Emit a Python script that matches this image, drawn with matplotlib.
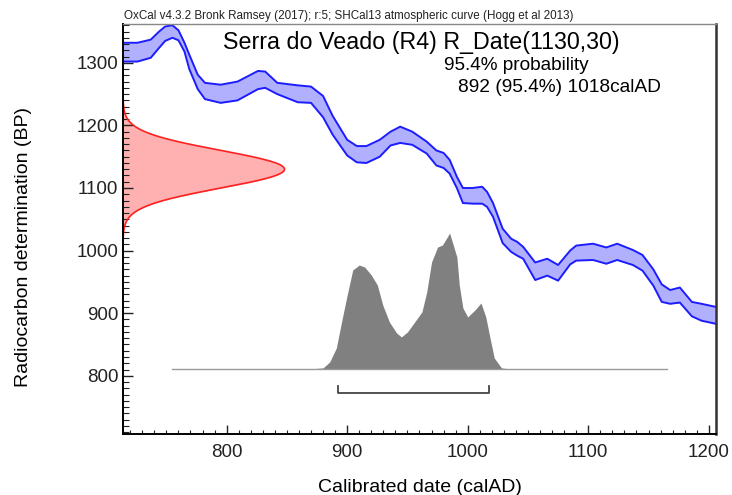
import numpy as np
import matplotlib
matplotlib.use('Agg')
import matplotlib.pyplot as plt
from matplotlib.ticker import MultipleLocator

plt.rcParams['font.family'] = ['Liberation Sans', 'DejaVu Sans']

# SHCal13 curve segment (calAD, upper / lower BP of the band)
curve_year = [714, 726, 737, 744, 749, 755, 760, 765, 769, 776, 782, 795, 809, 826,
              832, 842, 859, 870, 880, 888, 900, 908, 916, 927, 936, 944, 954, 966,
              974, 980, 985, 991, 996, 1004, 1012, 1016, 1021, 1029, 1036, 1041, 1046,
              1056, 1066, 1075, 1085, 1090, 1104, 1115, 1124, 1137, 1145, 1154, 1161,
              1168, 1176, 1186, 1194, 1206]
curve_upper = [1332, 1332, 1337, 1350, 1358, 1360, 1352, 1332, 1313, 1281, 1268, 1265,
               1270, 1287, 1286, 1268, 1264, 1262, 1247, 1215, 1177, 1167, 1167, 1177,
               1190, 1198, 1190, 1174, 1160, 1156, 1145, 1118, 1100, 1100, 1102, 1094,
               1076, 1035, 1019, 1014, 1006, 981, 987, 977, 1000, 1008, 1011, 1005,
               1011, 1001, 993, 970, 946, 937, 941, 918, 915, 910]
curve_lower = [1302, 1302, 1308, 1324, 1335, 1340, 1336, 1318, 1290, 1258, 1242, 1236,
               1240, 1258, 1260, 1250, 1237, 1236, 1213, 1185, 1152, 1141, 1140, 1150,
               1168, 1172, 1169, 1155, 1136, 1132, 1123, 1100, 1076, 1075, 1075, 1070,
               1054, 1012, 998, 992, 987, 953, 960, 952, 978, 984, 985, 979, 985, 977,
               968, 944, 918, 915, 917, 895, 888, 883]

# radiocarbon measurement
r_date = 1130
r_err = 30

# calibrated probability (relative)
cal_year = [869, 880, 885.5, 891, 896, 900, 904.6, 910, 914.5, 920, 925, 929.5, 935,
            941, 945, 950, 956, 962, 966, 970, 975, 979, 985, 991, 993, 996, 1000,
            1006, 1011, 1015, 1018, 1022, 1028, 1035]
cal_prob = [0, 1, 7, 21, 51, 74, 99, 104, 102, 94, 84, 64, 47, 36, 32, 37, 47, 57,
            77, 107, 122, 124, 136, 112, 84, 61, 52, 59, 66, 52, 34, 11, 1, 0]

range_from, range_to = 892, 1018

fig = plt.figure(figsize=(7.32, 4.95), dpi=100)
ax = fig.add_axes([123 / 732, 1 - 434 / 495, 593 / 732, 410 / 495])
ax.set_xlim(714, 1206)
ax.set_ylim(707, 1362)

# calibration curve band
ax.fill_between(curve_year, curve_lower, curve_upper, color='#b0b0ff', lw=0)
ax.plot(curve_year, curve_upper, color='#1c1cff', lw=1.4)
ax.plot(curve_year, curve_lower, color='#1c1cff', lw=1.4)

# measured date on the y axis
bp = np.linspace(1005, 1260, 300)
dens = np.exp(-0.5 * ((bp - r_date) / r_err) ** 2)
ax.fill_betweenx(bp, 714, 714 + 134 * dens, color='#ffb0b0', lw=0)
ax.plot(714 + 134 * dens, bp, color='#ff2020', lw=1.2)

# calibrated distribution
base = 811
scale = 217 / max(cal_prob)
prob = np.array(cal_prob) * scale
ax.fill_between(cal_year, base, base + prob, color='#808080', lw=0)
ax.plot([755, 1165], [base, base], color='#999999', lw=1)

# 95.4% range bracket
ax.plot([range_from, range_from, range_to, range_to], [783, 773, 773, 783],
        color='#444444', lw=1.3)

ax.xaxis.set_major_locator(MultipleLocator(100))
ax.xaxis.set_minor_locator(MultipleLocator(10))
ax.yaxis.set_major_locator(MultipleLocator(100))
ax.yaxis.set_minor_locator(MultipleLocator(10))
ax.tick_params(which='both', direction='in', top=False, right=False, labelsize=13.5,
               colors='#222222')
ax.tick_params(axis='x', which='major', length=6.5, width=1, pad=7)
ax.tick_params(axis='x', which='minor', length=3, width=0.8)
ax.tick_params(axis='y', which='major', length=7, width=1, pad=3.5)
ax.tick_params(axis='y', which='minor', length=4.5, width=0.8)

ax.spines['left'].set_linewidth(1.4)
ax.spines['bottom'].set_linewidth(1.4)
ax.spines['top'].set_color('#888888')
ax.spines['top'].set_linewidth(1)
ax.spines['right'].set_color('#333333')
ax.spines['right'].set_linewidth(1.8)

fig.text(124 / 732, 1 - 16 / 495, 'OxCal v4.3.2 Bronk Ramsey (2017); r:5; SHCal13 atmospheric curve (Hogg et al 2013)',
         fontsize=8.4, ha='left', va='center', color='#222222')
fig.text(223 / 732, 1 - 43 / 495, 'Serra do Veado (R4) R_Date(1130,30)',
         fontsize=16.75, ha='left', va='center')
fig.text(444 / 732, 1 - 65 / 495, '95.4% probability',
         fontsize=13.7, ha='left', va='center')
fig.text(458 / 732, 1 - 88 / 495, '892 (95.4%) 1018calAD',
         fontsize=13.8, ha='left', va='center')

fig.text(420 / 732, 1 - 487 / 495, 'Calibrated date (calAD)', fontsize=14,
         ha='center', va='center')
fig.text(24 / 732, 1 - 247 / 495, 'Radiocarbon determination (BP)', fontsize=14,
         ha='center', va='center', rotation=90)

fig.savefig('out.png', dpi=100)
plt.close(fig)
